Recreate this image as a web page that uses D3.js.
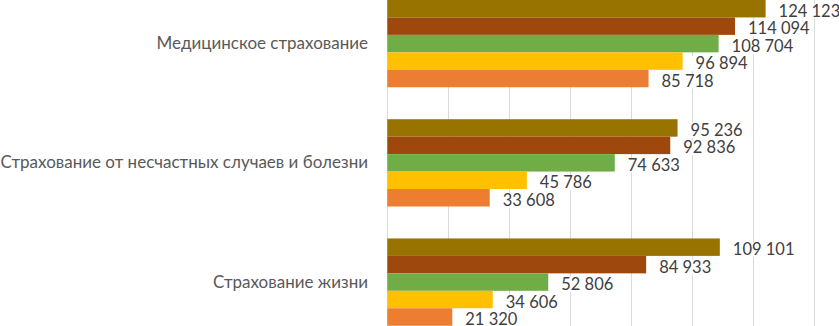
<!DOCTYPE html>
<html>
<head>
<meta charset="utf-8">
<script src="https://cdn.jsdelivr.net/npm/d3@7"></script>
<style>
  body { margin: 0; background: #fff; }
  svg { display: block; font-family: Lato, "Open Sans", sans-serif; }
</style>
</head>
<body>
<svg width="839" height="326"></svg>
<script>
// категории (сверху вниз) и пять рядов, порядок рядов сверху вниз внутри группы
const categories = ["Медицинское страхование", "Страхование от несчастных случаев и болезни", "Страхование жизни"];
const seriesNames = ["s1", "s2", "s3", "s4", "s5"];
const seriesColors = ["#997300", "#9e480e", "#70ad47", "#ffc000", "#ed7d31"];
const s1 = [124123, 95236, 109101];
const s2 = [114094, 92836, 84933];
const s3 = [108704, 74633, 52806];
const s4 = [96894, 45786, 34606];
const s5 = [85718, 33608, 21320];
const series = [s1, s2, s3, s4, s5];
const xTicks = [0, 20000, 40000, 60000, 80000, 100000, 120000, 140000];

const svg = d3.select("svg");
const W = 839, H = 326;

const x = d3.scaleLinear().domain([0, 140000]).range([387.3, 814]);
// plot area is cropped at top and bottom of the picture
const y = d3.scaleBand().domain(categories).range([-16, 341.7]).paddingInner(0.268).paddingOuter(0.134);
const ys = d3.scaleBand().domain(seriesNames).range([0, y.bandwidth()]);

// gridlines
svg.append("g").selectAll("line").data(xTicks).enter().append("line")
  .attr("x1", d => Math.round(x(d)) + 0.5).attr("x2", d => Math.round(x(d)) + 0.5)
  .attr("y1", 0).attr("y2", H)
  .attr("stroke", "#d9d9d9").attr("stroke-width", 1);

// bars
const groups = svg.append("g").selectAll("g").data(categories).enter().append("g")
  .attr("transform", c => `translate(0,${y(c)})`);

groups.selectAll("rect").data((c, i) => series.map((s, k) => ({ k, v: s[i] }))).enter().append("rect")
  .attr("x", x(0))
  .attr("y", d => ys(seriesNames[d.k]))
  .attr("width", d => x(d.v) - x(0))
  .attr("height", ys.bandwidth())
  .attr("fill", d => seriesColors[d.k]);

// value labels with white boxes
const fmt = v => d3.format(",")(v).replace(/,/g, " ");
const lab = groups.selectAll("g.lab").data((c, i) => series.map((s, k) => ({ k, v: s[i] }))).enter().append("g")
  .attr("class", "lab");
lab.append("text")
  .attr("x", d => x(d.v) + 13)
  .attr("y", d => ys(seriesNames[d.k]) + ys.bandwidth() / 2 + 8)
  .attr("font-size", 16.5)
  .attr("fill", "#404040")
  .text(d => fmt(d.v));
lab.each(function () {
  const t = d3.select(this).select("text");
  const b = t.node().getBBox();
  d3.select(this).insert("rect", "text")
    .attr("x", b.x - 4).attr("y", b.y + 3)
    .attr("width", b.width + 8).attr("height", b.height - 5)
    .attr("fill", "#fff");
});

// category labels
svg.append("g").selectAll("text").data(categories).enter().append("text")
  .attr("x", 368)
  .attr("y", c => y(c) + y.bandwidth() / 2 + 5.5)
  .attr("text-anchor", "end")
  .attr("font-size", 17)
  .attr("fill", "#595959")
  .text(c => c);
</script>
</body>
</html>
